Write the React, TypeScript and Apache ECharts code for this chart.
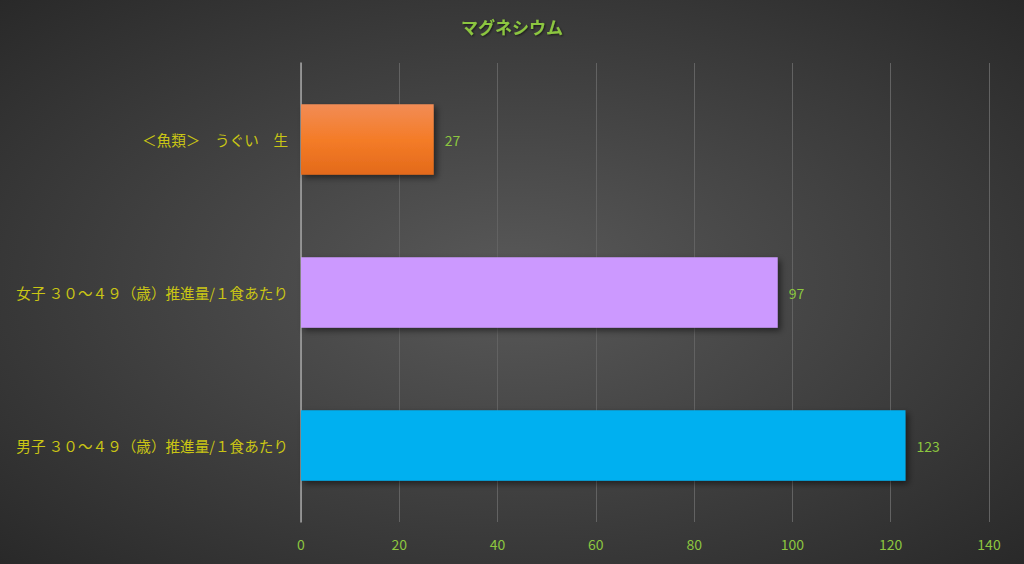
import React, { useEffect, useRef } from 'react';
import * as echarts from 'echarts';

const categories = [
  '男子 ３０～４９（歳）推進量/１食あたり',
  '女子 ３０～４９（歳）推進量/１食あたり',
  '＜魚類＞　うぐい　生',
];
const values = [123, 97, 27];
const xTicks = [0, 20, 40, 60, 80, 100, 120, 140];

const barColors = [
  '#00b0f0',
  '#cc99ff',
  new echarts.graphic.LinearGradient(0, 0, 0, 1, [
    { offset: 0, color: '#f28c55' },
    { offset: 0.5, color: '#f47c28' },
    { offset: 1, color: '#e36a1a' },
  ]),
];

const App: React.FC = () => {
  const chartRef = useRef<HTMLDivElement>(null);
  useEffect(() => {
    const chart = echarts.init(chartRef.current, undefined, { renderer: 'svg' });
    const font = '"Noto Sans CJK JP", "Noto Sans", sans-serif';
    chart.setOption({
      animation: false,
      backgroundColor: new echarts.graphic.RadialGradient(0.5, 0.5, 0.75, [
        { offset: 0, color: '#595959' },
        { offset: 1, color: '#262626' },
      ]),
      title: {
        text: 'マグネシウム',
        left: 'center',
        top: 13,
        textStyle: {
          color: '#8cc63f',
          fontSize: 17,
          fontWeight: 'bold',
          fontFamily: font,
          textShadowColor: 'rgba(0,0,0,0.6)',
          textShadowBlur: 2,
          textShadowOffsetX: 1,
          textShadowOffsetY: 1,
        },
      },
      grid: { left: 301, right: 35, top: 63, bottom: 42 },
      xAxis: {
        type: 'value',
        min: 0,
        max: xTicks[xTicks.length - 1],
        interval: 20,
        axisLine: { show: false },
        axisTick: { show: false },
        splitLine: { lineStyle: { color: '#626262', width: 1 } },
        axisLabel: { color: '#8cc63f', fontSize: 14, fontFamily: font, margin: 15 },
      },
      yAxis: {
        type: 'category',
        data: categories,
        axisLine: { show: true, lineStyle: { color: '#a6a6a6', width: 1.5 } },
        axisTick: { show: false },
        axisLabel: { color: '#c9c514', fontSize: 14.6, fontFamily: font, margin: 13 },
      },
      series: [
        {
          type: 'bar',
          barWidth: '46%',
          data: values.map((v, i) => ({
            value: v,
            itemStyle: {
              color: barColors[i],
              shadowColor: 'rgba(0,0,0,0.5)',
              shadowBlur: 6,
              shadowOffsetX: 3,
              shadowOffsetY: 3,
            },
          })),
          label: {
            show: true,
            position: 'right',
            distance: 11,
            color: '#8cc63f',
            fontSize: 14,
            fontFamily: font,
          },
        },
      ],
    });
    return () => {
      chart.dispose();
    };
  }, []);

  return (
    <div
      ref={chartRef}
      style={{ position: 'absolute', left: 0, top: 0, width: 1024, height: 564 }}
    />
  );
};

export default App;
